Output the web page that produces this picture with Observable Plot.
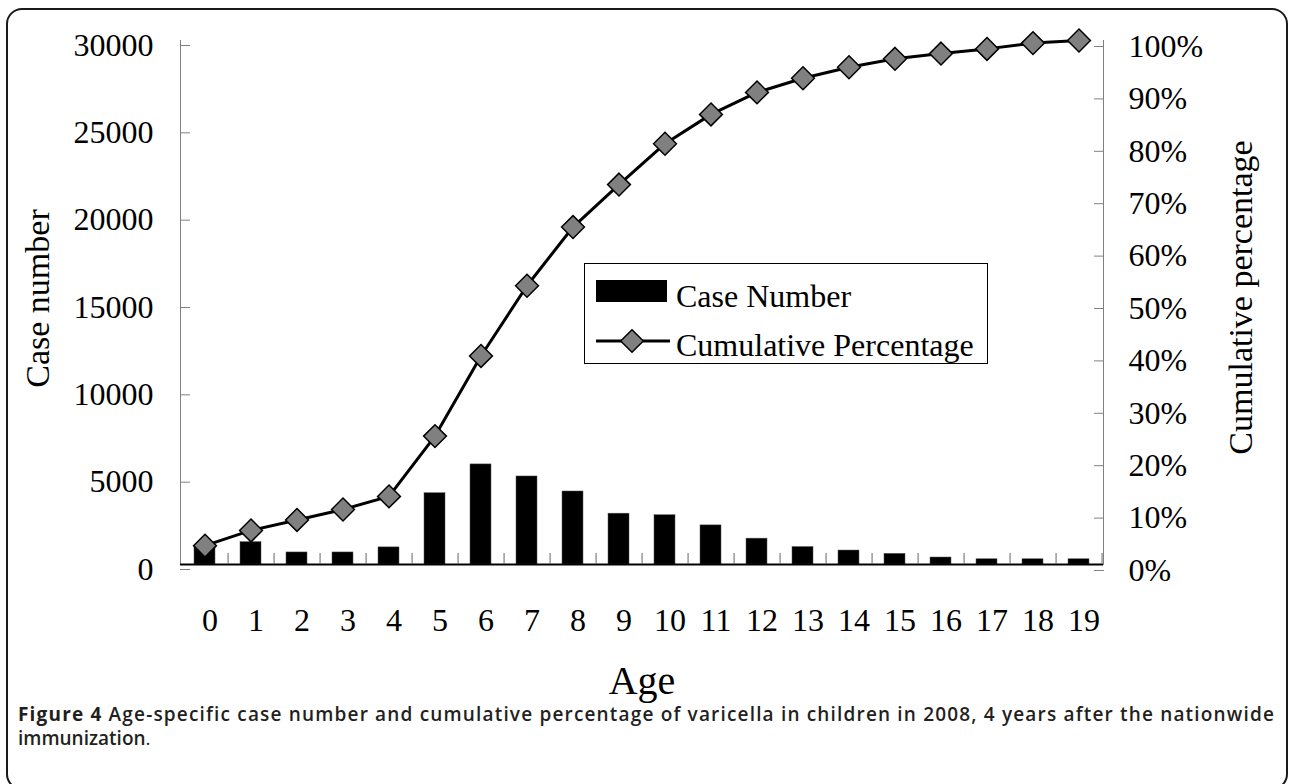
<!DOCTYPE html>
<html>
<head>
<meta charset="utf-8">
<script src="https://cdn.jsdelivr.net/npm/d3@7"></script>
<script src="https://cdn.jsdelivr.net/npm/@observablehq/plot@0.6"></script>
<style>
  html, body { margin: 0; padding: 0; background: #fff; }
  #wrap { position: relative; width: 1289px; height: 784px; overflow: hidden; background: #fff; }
  #chart { position: absolute; left: 0; top: 0; }
  #legend { position: absolute; left: 584px; top: 263px; }
  #caption { position: absolute; left: 18px; top: 702px; width: 1257px; font-family: "Open Sans", sans-serif; font-size: 19px; line-height: 24px; color: #231f20; font-weight: 600; }
  #caption .l1 { white-space: nowrap; display: inline-block; }
  #caption b { font-weight: 700; }
  #border { position: absolute; left: 6px; top: 8px; width: 1282px; height: 782px; box-sizing: border-box; border: 2px solid #1a1a1a; border-radius: 16px; pointer-events: none; }
</style>
</head>
<body>
<div id="wrap">
  <div id="chart"></div>
  <svg id="legend" width="405" height="102" font-family="'Liberation Serif', 'Times New Roman', serif" font-size="32">
    <rect x="0.5" y="0.5" width="403" height="100" fill="#fff" stroke="#000" stroke-width="1"></rect>
    <rect x="12" y="17" width="71" height="22" fill="#000"></rect>
    <text x="92" y="43.5" fill="#000">Case Number</text>
    <line x1="12" x2="86" y1="78" y2="78" stroke="#000" stroke-width="3"></line>
    <polygon points="48,66.7 59.3,78 48,89.3 36.7,78" fill="#808080" stroke="#000" stroke-width="1.5"></polygon>
    <text x="92" y="93" fill="#000">Cumulative Percentage</text>
  </svg>
  <div id="caption">
    <div><span class="l1" id="capline"><b>Figure 4</b> Age-specific case number and cumulative percentage of varicella in children in 2008, 4 years after the nationwide</span></div>
    <div>immunization<span style="font-weight:400">.</span></div>
  </div>
  <div id="border"></div>
</div>
<script>
// ---- data ----
const ages = [0, 1, 2, 3, 4, 5, 6, 7, 8, 9, 10, 11, 12, 13, 14, 15, 16, 17, 18, 19];
const caseNumbers = [1000, 1280, 690, 690, 980, 4080, 5730, 5040, 4180, 2910, 2820, 2240, 1480, 1000, 800, 610, 400, 300, 300, 300];
const cumulativePct = [3.6, 6.5, 8.5, 10.5, 13.0, 24.5, 39.8, 53.2, 64.4, 72.5, 80.3, 85.9, 90.1, 92.8, 94.9, 96.5, 97.5, 98.4, 99.5, 100];
const caseTicks = [0, 5000, 10000, 15000, 20000, 25000, 30000];
const pctTicks = [0, 10, 20, 30, 40, 50, 60, 70, 80, 90, 100];
const caseMax = 30000;
const pctMax = 100;
const toCases = p => p * caseMax / pctMax;

const rows = ages.map((a, i) => ({age: a, cases: caseNumbers[i], pct: cumulativePct[i]}));

const W = 1289, H = 730;
const mL = 180, mR = 186, mT = 40, mB = 166;
const step = (W - mL - mR) / ages.length;

const chart = Plot.plot({
  width: W,
  height: H,
  marginLeft: mL,
  marginRight: mR,
  marginTop: mT,
  marginBottom: mB,
  style: {fontFamily: "'Liberation Serif', 'Times New Roman', serif", fontSize: "32px", background: "transparent", color: "#000"},
  x: {type: "band", domain: ages, paddingInner: 0.545, paddingOuter: 0.2725, label: null},
  y: {domain: [0, caseMax], label: null},
  marks: [
    Plot.frame({anchor: "left", stroke: "#808080"}),
    Plot.frame({anchor: "right", stroke: "#808080"}),
    Plot.barY(rows, {x: "age", y: "cases", fill: "#000", stroke: "#555", strokeWidth: 0.5}),
    Plot.ruleY([0], {stroke: "#000", strokeWidth: 2}),
    // tick marks between categories, inside the frame
    Plot.axisX({tickSize: 11, dy: -11, dx: step / 2, tickFormat: () => "", stroke: "#666", label: null}),
    // category labels
    Plot.axisX({tickSize: 0, tickPadding: 44, dx: 5, label: null}),
    // left axis (case number)
    Plot.axisY({ticks: caseTicks, tickFormat: "d", tickSize: 10, dx: 10, tickPadding: 27, dy: 5, stroke: "#808080", label: null}),
    // right axis (cumulative percentage)
    Plot.axisY({anchor: "right", ticks: pctTicks.map(toCases), tickFormat: v => `${Math.round(v * pctMax / caseMax)}%`, tickSize: 10, dx: -10, tickPadding: 25, dy: 6, stroke: "#808080", label: null}),
    Plot.line(rows, {x: "age", y: d => toCases(d.pct), stroke: "#000", strokeWidth: 3}),
    Plot.dot(rows, {x: "age", y: d => toCases(d.pct), symbol: "diamond2", r: 10.3, fill: "#808080", stroke: "#000", strokeWidth: 1.5}),
    Plot.text(["Case number"], {frameAnchor: "left", text: d => d, rotate: -90, dx: -142, dy: -4, fontSize: 34, textAnchor: "middle", lineAnchor: "middle"}),
    Plot.text(["Cumulative percentage"], {frameAnchor: "right", text: d => d, rotate: -90, dx: 138, dy: -5, fontSize: 34, textAnchor: "middle", lineAnchor: "middle"}),
    Plot.text(["Age"], {frameAnchor: "bottom", text: d => d, dy: 117, fontSize: 40, textAnchor: "middle", lineAnchor: "middle"})
  ]
});
document.getElementById("chart").appendChild(chart);

// stretch the first caption line to the full caption width
const cap = document.getElementById("capline");
const natural = cap.getBoundingClientRect().width;
const nChars = cap.textContent.length;
cap.style.letterSpacing = ((1257 - natural) / nChars) + "px";
</script>
</body>
</html>
